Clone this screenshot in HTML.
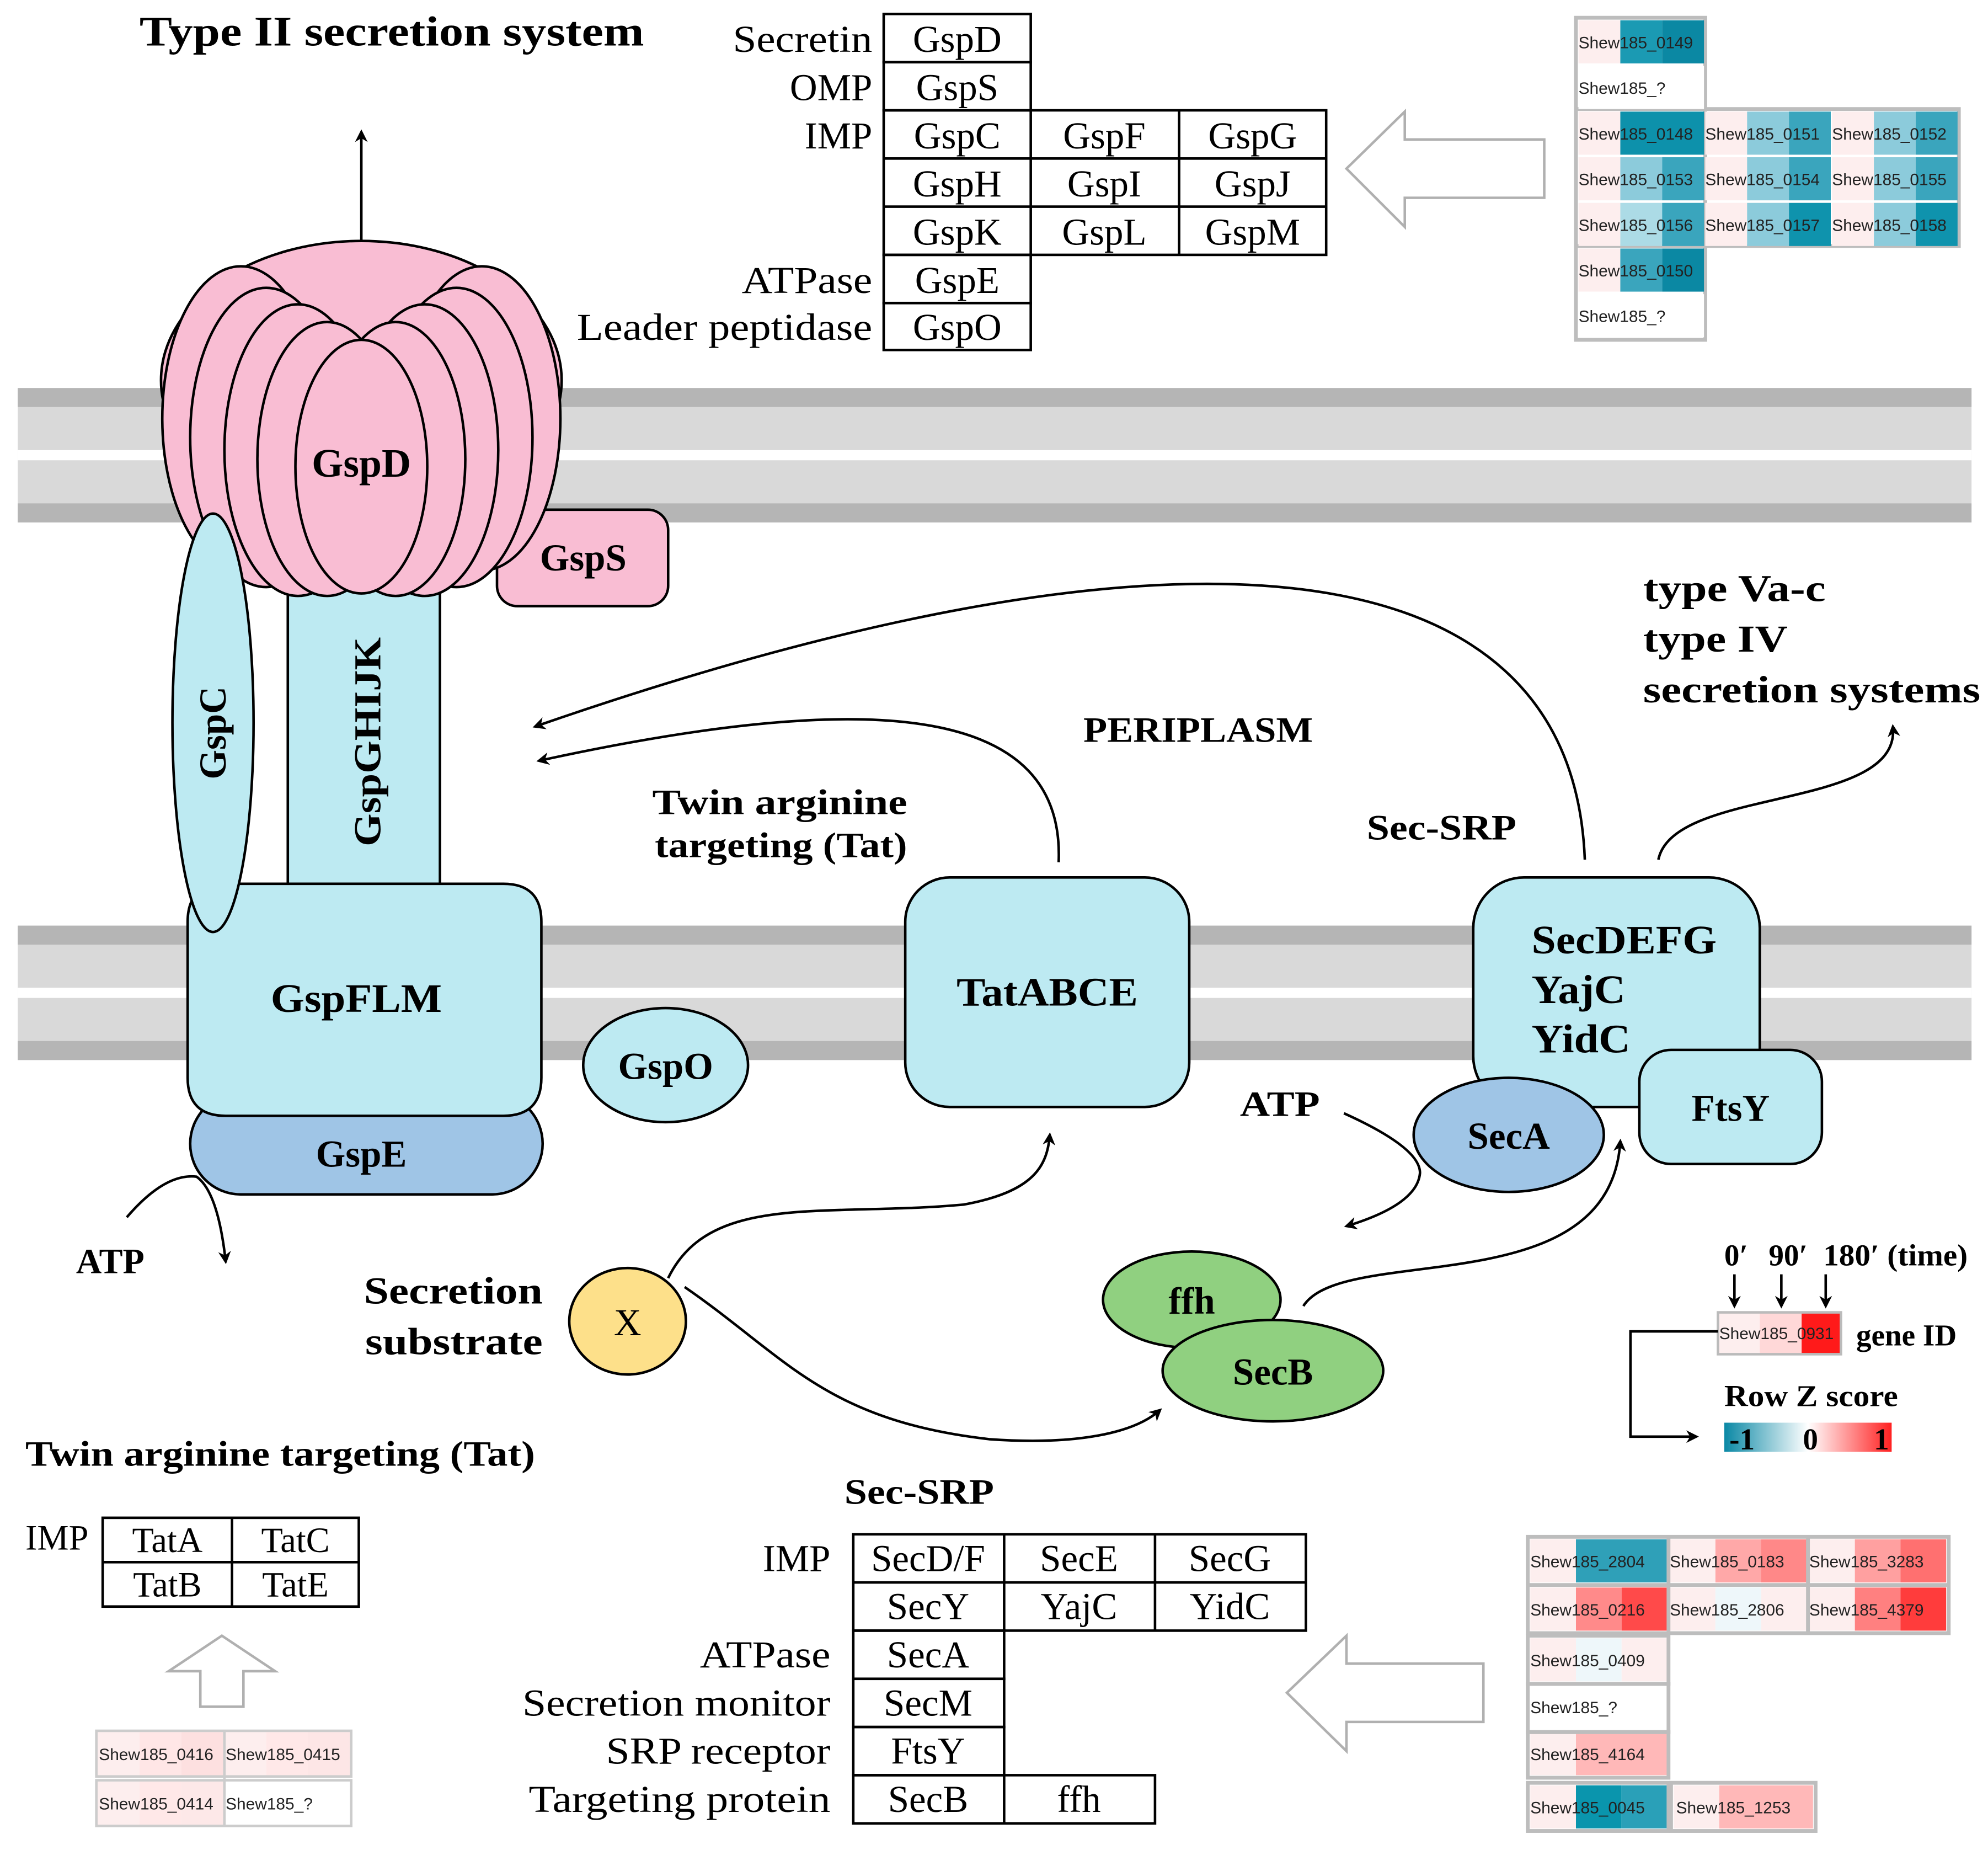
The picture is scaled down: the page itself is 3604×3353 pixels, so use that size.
<!DOCTYPE html>
<html><head><meta charset="utf-8"><style>
html,body{margin:0;padding:0;background:#fff;}
svg{display:block;}
.s{font-family:"Liberation Serif",serif;}
.h{font-family:"Liberation Sans",sans-serif;font-size:13px;fill:#222;}
</style></head><body>
<svg width="3604" height="3353" viewBox="0 0 1568 1459" preserveAspectRatio="none" xmlns="http://www.w3.org/2000/svg">
<defs>
<marker id="ar" markerWidth="10" markerHeight="10" refX="8" refY="5" orient="auto" markerUnits="userSpaceOnUse"><path d="M0,0 L10,5 L0,10 L3,5 z" fill="#000"/></marker>
<linearGradient id="zg" x1="0" x2="1"><stop offset="0" stop-color="#0a88a5"/><stop offset="0.5" stop-color="#ffffff"/><stop offset="1" stop-color="#ff2020"/></linearGradient>
</defs>
<rect width="1568" height="1459" fill="#fff"/>

<!-- membranes -->
<g>
<rect x="14" y="306" width="1541" height="106" fill="#d9d9d9"/>
<rect x="14" y="306" width="1541" height="15" fill="#b5b5b5"/>
<rect x="14" y="355" width="1541" height="8" fill="#fff"/>
<rect x="14" y="397" width="1541" height="15" fill="#b5b5b5"/>
<rect x="14" y="730" width="1541" height="106" fill="#d9d9d9"/>
<rect x="14" y="730" width="1541" height="15" fill="#b5b5b5"/>
<rect x="14" y="779" width="1541" height="8" fill="#fff"/>
<rect x="14" y="821" width="1541" height="15" fill="#b5b5b5"/>
</g>

<text x="110" y="36" class="s" font-size="33" font-weight="bold" textLength="398" lengthAdjust="spacingAndGlyphs">Type II secretion  system</text>
<line x1="285" y1="200" x2="285" y2="104" stroke="#000" stroke-width="2" marker-end="url(#ar)"/>

<!-- GspGHIJK -->
<rect x="227" y="440" width="120" height="270" fill="#bdeaf2" stroke="#000" stroke-width="2"/>
<text transform="translate(300,585) rotate(-90)" class="s" font-size="30" font-weight="bold" text-anchor="middle" textLength="165" lengthAdjust="spacingAndGlyphs">GspGHIJK</text>
<!-- GspS -->
<rect x="392" y="402" width="135" height="76" rx="16" fill="#f9bdd3" stroke="#000" stroke-width="2"/>
<text x="460" y="450" class="s" font-size="30" font-weight="bold" text-anchor="middle">GspS</text>
<!-- GspD -->
<g fill="#f9bdd3" stroke="#000" stroke-width="2">
<ellipse cx="285" cy="300" rx="158" ry="110"/>
<ellipse cx="190" cy="330" rx="62" ry="120"/>
<ellipse cx="380" cy="330" rx="62" ry="120"/>
<ellipse cx="210" cy="345" rx="60" ry="118"/>
<ellipse cx="360" cy="345" rx="60" ry="118"/>
<ellipse cx="235" cy="355" rx="58" ry="115"/>
<ellipse cx="335" cy="355" rx="58" ry="115"/>
<ellipse cx="258" cy="362" rx="55" ry="108"/>
<ellipse cx="312" cy="362" rx="55" ry="108"/>
<ellipse cx="285" cy="368" rx="52" ry="100"/>
</g>
<text x="285" y="376" class="s" font-size="32" font-weight="bold" text-anchor="middle">GspD</text>
<!-- GspE -->
<rect x="150" y="862" width="278" height="80" rx="40" fill="#9fc5e6" stroke="#000" stroke-width="2"/>
<text x="285" y="920" class="s" font-size="30" font-weight="bold" text-anchor="middle">GspE</text>
<!-- GspFLM -->
<path d="M178,697 H397 Q427,697 427,727 V850 Q427,880 397,880 H178 Q148,880 148,850 V727 Q148,697 178,697 z" fill="#bdeaf2" stroke="#000" stroke-width="2"/>
<text x="281" y="798" class="s" font-size="32" font-weight="bold" text-anchor="middle" textLength="135" lengthAdjust="spacingAndGlyphs">GspFLM</text>
<!-- GspC on top -->
<ellipse cx="168" cy="570" rx="32" ry="165" fill="#bdeaf2" stroke="#000" stroke-width="2"/>
<text transform="translate(178,578) rotate(-90)" class="s" font-size="30" font-weight="bold" text-anchor="middle">GspC</text>
<!-- GspO -->
<ellipse cx="525" cy="840" rx="65" ry="45" fill="#bdeaf2" stroke="#000" stroke-width="2"/>
<text x="525" y="851" class="s" font-size="30" font-weight="bold" text-anchor="middle">GspO</text>
<!-- ATP left -->
<path d="M100,960 Q130,925 155,928 Q172,940 178,995" fill="none" stroke="#000" stroke-width="2" marker-end="url(#ar)"/>
<text x="60" y="1004" class="s" font-size="28" font-weight="bold">ATP</text>

<!-- Tat -->
<rect x="714" y="692" width="224" height="181" rx="35" fill="#bdeaf2" stroke="#000" stroke-width="2"/>
<text x="826" y="793" class="s" font-size="32" font-weight="bold" text-anchor="middle" textLength="143" lengthAdjust="spacingAndGlyphs">TatABCE</text>
<text x="615" y="642" class="s" font-size="28" font-weight="bold" text-anchor="middle" textLength="201" lengthAdjust="spacingAndGlyphs">Twin arginine</text>
<text x="616" y="676" class="s" font-size="28" font-weight="bold" text-anchor="middle" textLength="199" lengthAdjust="spacingAndGlyphs">targeting (Tat)</text>
<text x="945" y="585" class="s" font-size="28" font-weight="bold" text-anchor="middle" textLength="181" lengthAdjust="spacingAndGlyphs">PERIPLASM</text>
<text x="1137" y="662" class="s" font-size="28" font-weight="bold" text-anchor="middle" textLength="118" lengthAdjust="spacingAndGlyphs">Sec-SRP</text>
<path d="M835,680 C840,560 700,540 425,600" fill="none" stroke="#000" stroke-width="2" marker-end="url(#ar)"/>
<path d="M1250,678 C1240,420 920,400 422,573" fill="none" stroke="#000" stroke-width="2" marker-end="url(#ar)"/>
<path d="M1308,678 C1320,620 1500,640 1493,573" fill="none" stroke="#000" stroke-width="2" marker-end="url(#ar)"/>
<text x="1296" y="474" class="s" font-size="30" font-weight="bold" textLength="144" lengthAdjust="spacingAndGlyphs">type Va-c</text>
<text x="1296" y="514" class="s" font-size="30" font-weight="bold" textLength="114" lengthAdjust="spacingAndGlyphs">type IV</text>
<text x="1296" y="554" class="s" font-size="30" font-weight="bold" textLength="266" lengthAdjust="spacingAndGlyphs">secretion systems</text>

<!-- Sec -->
<rect x="1162" y="692" width="226" height="181" rx="40" fill="#bdeaf2" stroke="#000" stroke-width="2"/>
<text x="1208" y="752" class="s" font-size="32" font-weight="bold" textLength="146" lengthAdjust="spacingAndGlyphs">SecDEFG</text>
<text x="1208" y="791" class="s" font-size="32" font-weight="bold" textLength="74" lengthAdjust="spacingAndGlyphs">YajC</text>
<text x="1208" y="830" class="s" font-size="32" font-weight="bold" textLength="78" lengthAdjust="spacingAndGlyphs">YidC</text>
<rect x="1293" y="828" width="144" height="90" rx="25" fill="#bdeaf2" stroke="#000" stroke-width="2"/>
<text x="1365" y="884" class="s" font-size="30" font-weight="bold" text-anchor="middle">FtsY</text>
<ellipse cx="1190" cy="895" rx="75" ry="45" fill="#9fc5e6" stroke="#000" stroke-width="2"/>
<text x="1190" y="906" class="s" font-size="30" font-weight="bold" text-anchor="middle">SecA</text>
<text x="978" y="880" class="s" font-size="28" font-weight="bold" textLength="63" lengthAdjust="spacingAndGlyphs">ATP</text>
<path d="M1060,878 Q1120,905 1120,925 Q1118,950 1062,967" fill="none" stroke="#000" stroke-width="2" marker-end="url(#ar)"/>
<ellipse cx="940" cy="1025" rx="70" ry="38" fill="#90d080" stroke="#000" stroke-width="2"/>
<text x="940" y="1036" class="s" font-size="30" font-weight="bold" text-anchor="middle">ffh</text>
<ellipse cx="1004" cy="1081" rx="87" ry="40" fill="#90d080" stroke="#000" stroke-width="2"/>
<text x="1004" y="1092" class="s" font-size="30" font-weight="bold" text-anchor="middle">SecB</text>
<path d="M1028,1030 C1060,980 1270,1030 1278,900" fill="none" stroke="#000" stroke-width="2" marker-end="url(#ar)"/>

<!-- substrate -->
<ellipse cx="495" cy="1042" rx="46" ry="42" fill="#fde08a" stroke="#000" stroke-width="2"/>
<text x="495" y="1053" class="s" font-size="30" text-anchor="middle">X</text>
<text x="428" y="1028" class="s" font-size="30" font-weight="bold" text-anchor="end" textLength="141" lengthAdjust="spacingAndGlyphs">Secretion</text>
<text x="428" y="1068" class="s" font-size="30" font-weight="bold" text-anchor="end" textLength="140" lengthAdjust="spacingAndGlyphs">substrate</text>
<path d="M527,1008 C560,940 650,960 760,950 C815,940 826,920 828,895" fill="none" stroke="#000" stroke-width="2" marker-end="url(#ar)"/>
<path d="M540,1015 C620,1070 650,1120 780,1135 C850,1140 895,1130 915,1112" fill="none" stroke="#000" stroke-width="2" marker-end="url(#ar)"/>

<!-- Top table -->
<g fill="none" stroke="#000" stroke-width="2">
<rect x="697" y="11" width="116" height="38"/>
<rect x="697" y="49" width="116" height="38"/>
<rect x="697" y="87" width="349" height="114"/>
<line x1="697" y1="125" x2="1046" y2="125"/><line x1="697" y1="163" x2="1046" y2="163"/>
<line x1="813" y1="87" x2="813" y2="201"/><line x1="930" y1="87" x2="930" y2="201"/>
<rect x="697" y="201" width="116" height="38"/>
<rect x="697" y="239" width="116" height="37"/>
</g>
<g class="s" font-size="30" text-anchor="middle">
<text x="755" y="41">GspD</text><text x="755" y="79">GspS</text>
<text x="755" y="117">GspC</text><text x="871" y="117">GspF</text><text x="988" y="117">GspG</text>
<text x="755" y="155">GspH</text><text x="871" y="155">GspI</text><text x="988" y="155">GspJ</text>
<text x="755" y="193">GspK</text><text x="871" y="193">GspL</text><text x="988" y="193">GspM</text>
<text x="755" y="231">GspE</text><text x="755" y="268">GspO</text>
</g>
<g class="s" font-size="30" text-anchor="end">
<text x="688" y="41" textLength="110" lengthAdjust="spacingAndGlyphs">Secretin</text><text x="688" y="79">OMP</text><text x="688" y="117">IMP</text>
<text x="688" y="231" textLength="103" lengthAdjust="spacingAndGlyphs">ATPase</text><text x="688" y="268" textLength="233" lengthAdjust="spacingAndGlyphs">Leader peptidase</text>
</g>
<path d="M1062,133 L1108,88 L1108,110 L1218,110 L1218,156 L1108,156 L1108,179 z" fill="#fff" stroke="#b0b0b0" stroke-width="2"/>

<!-- top heatmap -->
<g stroke="#bdbdbd" stroke-width="3" fill="none">
<rect x="1243" y="14" width="102" height="254"/>
<rect x="1243" y="86" width="302" height="108"/>
</g>
<g>
<rect x="1245" y="16" width="33" height="34" fill="#fdeeee"/><rect x="1278" y="16" width="33" height="34" fill="#1b9ab3"/><rect x="1311" y="16" width="33" height="34" fill="#0b88a3"/>
<rect x="1245" y="52" width="99" height="34" fill="#fff"/>
<rect x="1245" y="88" width="33" height="34" fill="#fdeeee"/><rect x="1278" y="88" width="66" height="34" fill="#0d91ab"/>
<rect x="1345" y="88" width="33" height="34" fill="#fdeeee"/><rect x="1378" y="88" width="33" height="34" fill="#8ccbdb"/><rect x="1411" y="88" width="33" height="34" fill="#3aa5bd"/>
<rect x="1445" y="88" width="33" height="34" fill="#fdeeee"/><rect x="1478" y="88" width="33" height="34" fill="#8ccbdb"/><rect x="1511" y="88" width="33" height="34" fill="#3aa5bd"/>
<rect x="1245" y="124" width="33" height="34" fill="#fdeeee"/><rect x="1278" y="124" width="33" height="34" fill="#8ccbdb"/><rect x="1311" y="124" width="33" height="34" fill="#3aa5bd"/>
<rect x="1345" y="124" width="33" height="34" fill="#fdeeee"/><rect x="1378" y="124" width="33" height="34" fill="#8ccbdb"/><rect x="1411" y="124" width="33" height="34" fill="#3aa5bd"/>
<rect x="1445" y="124" width="33" height="34" fill="#fdeeee"/><rect x="1478" y="124" width="33" height="34" fill="#8ccbdb"/><rect x="1511" y="124" width="33" height="34" fill="#3aa5bd"/>
<rect x="1245" y="160" width="33" height="34" fill="#fdeeee"/><rect x="1278" y="160" width="33" height="34" fill="#acdbe6"/><rect x="1311" y="160" width="33" height="34" fill="#3aa5bd"/>
<rect x="1345" y="160" width="33" height="34" fill="#fdeeee"/><rect x="1378" y="160" width="33" height="34" fill="#8ccbdb"/><rect x="1411" y="160" width="33" height="34" fill="#0f93ad"/>
<rect x="1445" y="160" width="33" height="34" fill="#fdeeee"/><rect x="1478" y="160" width="33" height="34" fill="#8ccbdb"/><rect x="1511" y="160" width="33" height="34" fill="#0f93ad"/>
<rect x="1245" y="196" width="33" height="34" fill="#fdeeee"/><rect x="1278" y="196" width="33" height="34" fill="#3aa5bd"/><rect x="1311" y="196" width="33" height="34" fill="#0b88a3"/>
<rect x="1245" y="232" width="99" height="34" fill="#fff"/>
</g>
<g class="h" font-size="12.5">
<text x="1245" y="38">Shew185_0149</text><text x="1245" y="74">Shew185_?</text>
<text x="1245" y="110">Shew185_0148</text><text x="1345" y="110">Shew185_0151</text><text x="1445" y="110">Shew185_0152</text>
<text x="1245" y="146">Shew185_0153</text><text x="1345" y="146">Shew185_0154</text><text x="1445" y="146">Shew185_0155</text>
<text x="1245" y="182">Shew185_0156</text><text x="1345" y="182">Shew185_0157</text><text x="1445" y="182">Shew185_0158</text>
<text x="1245" y="218">Shew185_0150</text><text x="1245" y="254">Shew185_?</text>
</g>

<!-- Legend -->
<g class="s" font-size="24" font-weight="bold">
<text x="1360" y="998">0′</text><text x="1395" y="998">90′</text><text x="1438" y="998" textLength="114" lengthAdjust="spacingAndGlyphs">180′ (time)</text>
<text x="1464" y="1061">gene ID</text><text x="1360" y="1109" textLength="137" lengthAdjust="spacingAndGlyphs">Row Z score</text>
</g>
<line x1="1368" y1="1005" x2="1368" y2="1030" stroke="#000" stroke-width="2" marker-end="url(#ar)"/>
<line x1="1405" y1="1005" x2="1405" y2="1030" stroke="#000" stroke-width="2" marker-end="url(#ar)"/>
<line x1="1440" y1="1005" x2="1440" y2="1030" stroke="#000" stroke-width="2" marker-end="url(#ar)"/>
<rect x="1355" y="1035" width="33" height="33" fill="#fdeeee"/><rect x="1388" y="1035" width="33" height="33" fill="#ffd8d8"/><rect x="1421" y="1035" width="31" height="33" fill="#ff1a1a"/>
<rect x="1355" y="1035" width="97" height="33" fill="none" stroke="#bbb" stroke-width="2"/>
<text x="1356" y="1056" class="h" font-size="12">Shew185_0931</text>
<path d="M1355,1050 H1286 V1133 H1338" fill="none" stroke="#000" stroke-width="2" marker-end="url(#ar)"/>
<rect x="1360" y="1122" width="132" height="23" fill="url(#zg)"/>
<g class="s" font-size="24" font-weight="bold"><text x="1364" y="1143">-1</text><text x="1422" y="1143">0</text><text x="1478" y="1143">1</text></g>

<!-- Tat table -->
<text x="20" y="1156" class="s" font-size="28" font-weight="bold" textLength="402" lengthAdjust="spacingAndGlyphs">Twin arginine targeting (Tat)</text>
<text x="20" y="1222" class="s" font-size="28">IMP</text>
<g fill="none" stroke="#000" stroke-width="2">
<rect x="81" y="1197" width="202" height="70"/><line x1="81" y1="1232" x2="283" y2="1232"/><line x1="183" y1="1197" x2="183" y2="1267"/>
</g>
<g class="s" font-size="28" text-anchor="middle">
<text x="132" y="1224">TatA</text><text x="233" y="1224">TatC</text><text x="132" y="1259">TatB</text><text x="233" y="1259">TatE</text>
</g>
<path d="M175,1290 L217,1318 L192,1318 L192,1346 L158,1346 L158,1318 L133,1318 z" fill="#fff" stroke="#b0b0b0" stroke-width="2"/>
<g>
<rect x="77" y="1366" width="33" height="34" fill="#fdeeee"/><rect x="110" y="1366" width="33" height="34" fill="#ffe6e6"/><rect x="143" y="1366" width="33" height="34" fill="#fde0e0"/>
<rect x="177" y="1366" width="33" height="34" fill="#fdeeee"/><rect x="210" y="1366" width="33" height="34" fill="#ffe8e8"/><rect x="243" y="1366" width="33" height="34" fill="#fde6e6"/>
<rect x="77" y="1405" width="33" height="34" fill="#fdeeee"/><rect x="110" y="1405" width="33" height="34" fill="#ffe8e8"/><rect x="143" y="1405" width="33" height="34" fill="#fde8e8"/>
<rect x="177" y="1405" width="99" height="34" fill="#fff"/>
</g>
<g fill="none" stroke="#ccc" stroke-width="2"><rect x="76" y="1365" width="201" height="36"/><rect x="76" y="1404" width="201" height="36"/><line x1="177" y1="1365" x2="177" y2="1440"/></g>
<g class="h" font-size="12.5"><text x="78" y="1388">Shew185_0416</text><text x="178" y="1388">Shew185_0415</text><text x="78" y="1427">Shew185_0414</text><text x="178" y="1427">Shew185_?</text></g>

<!-- Sec table -->
<text x="725" y="1186" class="s" font-size="28" font-weight="bold" text-anchor="middle" textLength="118" lengthAdjust="spacingAndGlyphs">Sec-SRP</text>
<g fill="none" stroke="#000" stroke-width="2">
<rect x="673" y="1210" width="357" height="76"/><line x1="673" y1="1248" x2="1030" y2="1248"/>
<line x1="792" y1="1210" x2="792" y2="1286"/><line x1="911" y1="1210" x2="911" y2="1286"/>
<rect x="673" y="1286" width="119" height="38"/><rect x="673" y="1324" width="119" height="38"/><rect x="673" y="1362" width="119" height="38"/>
<rect x="673" y="1400" width="238" height="38"/><line x1="792" y1="1400" x2="792" y2="1438"/>
</g>
<g class="s" font-size="30" text-anchor="middle">
<text x="732" y="1239">SecD/F</text><text x="851" y="1239">SecE</text><text x="970" y="1239">SecG</text>
<text x="732" y="1277">SecY</text><text x="851" y="1277">YajC</text><text x="970" y="1277">YidC</text>
<text x="732" y="1315">SecA</text><text x="732" y="1353">SecM</text><text x="732" y="1391">FtsY</text>
<text x="732" y="1429">SecB</text><text x="851" y="1429">ffh</text>
</g>
<g class="s" font-size="30" text-anchor="end">
<text x="655" y="1239">IMP</text><text x="655" y="1315" textLength="103" lengthAdjust="spacingAndGlyphs">ATPase</text><text x="655" y="1353" textLength="243" lengthAdjust="spacingAndGlyphs">Secretion monitor</text>
<text x="655" y="1391" textLength="177" lengthAdjust="spacingAndGlyphs">SRP receptor</text><text x="655" y="1429" textLength="238" lengthAdjust="spacingAndGlyphs">Targeting protein</text>
</g>
<path d="M1015,1335 L1062,1290 L1062,1312 L1170,1312 L1170,1358 L1062,1358 L1062,1381 z" fill="#fff" stroke="#b0b0b0" stroke-width="2"/>

<!-- bottom heatmap -->
<g>
<rect x="1207" y="1214" width="36" height="34" fill="#fdeeee"/><rect x="1243" y="1214" width="72" height="34" fill="#2fa0b8"/>
<rect x="1317" y="1214" width="36" height="34" fill="#fdeeee"/><rect x="1353" y="1214" width="36" height="34" fill="#ffa8a8"/><rect x="1389" y="1214" width="36" height="34" fill="#ff8888"/>
<rect x="1427" y="1214" width="36" height="34" fill="#fdeeee"/><rect x="1463" y="1214" width="36" height="34" fill="#ffa0a0"/><rect x="1499" y="1214" width="36" height="34" fill="#ff7070"/>
<rect x="1207" y="1252" width="36" height="34" fill="#fdeeee"/><rect x="1243" y="1252" width="36" height="34" fill="#ff8a8a"/><rect x="1279" y="1252" width="36" height="34" fill="#ff4a4a"/>
<rect x="1317" y="1252" width="36" height="34" fill="#fdeeee"/><rect x="1353" y="1252" width="36" height="34" fill="#eef7fa"/><rect x="1389" y="1252" width="36" height="34" fill="#fdeeee"/>
<rect x="1427" y="1252" width="36" height="34" fill="#fdeeee"/><rect x="1463" y="1252" width="36" height="34" fill="#ff8080"/><rect x="1499" y="1252" width="36" height="34" fill="#ff3c3c"/>
<rect x="1207" y="1292" width="36" height="34" fill="#fdeeee"/><rect x="1243" y="1292" width="36" height="34" fill="#eef7fa"/><rect x="1279" y="1292" width="36" height="34" fill="#fdeeee"/>
<rect x="1207" y="1330" width="108" height="34" fill="#fff"/>
<rect x="1207" y="1366" width="36" height="34" fill="#fdeeee"/><rect x="1243" y="1366" width="72" height="34" fill="#ffb8b8"/>
<rect x="1207" y="1408" width="36" height="34" fill="#fdeeee"/><rect x="1243" y="1408" width="36" height="34" fill="#0a95ad"/><rect x="1279" y="1408" width="36" height="34" fill="#2aa0b8"/>
<rect x="1320" y="1408" width="36" height="34" fill="#fdeeee"/><rect x="1356" y="1408" width="74" height="34" fill="#ffb8b8"/>
</g>
<g fill="none" stroke="#bdbdbd" stroke-width="3">
<rect x="1205" y="1212" width="332" height="76"/><line x1="1205" y1="1250" x2="1537" y2="1250"/><line x1="1316" y1="1212" x2="1316" y2="1288"/><line x1="1426" y1="1212" x2="1426" y2="1288"/>
<rect x="1205" y="1290" width="111" height="38"/><rect x="1205" y="1328" width="111" height="38"/><rect x="1205" y="1366" width="111" height="36"/>
<rect x="1205" y="1406" width="111" height="38"/><rect x="1318" y="1406" width="114" height="38"/>
</g>
<g class="h" font-size="14">
<text x="1207" y="1236">Shew185_2804</text><text x="1317" y="1236">Shew185_0183</text><text x="1427" y="1236">Shew185_3283</text>
<text x="1207" y="1274">Shew185_0216</text><text x="1317" y="1274">Shew185_2806</text><text x="1427" y="1274">Shew185_4379</text>
<text x="1207" y="1314">Shew185_0409</text><text x="1207" y="1351" font-size="13">Shew185_?</text>
<text x="1207" y="1388">Shew185_4164</text><text x="1207" y="1430">Shew185_0045</text><text x="1322" y="1430">Shew185_1253</text>
</g>
</svg>
</body></html>
